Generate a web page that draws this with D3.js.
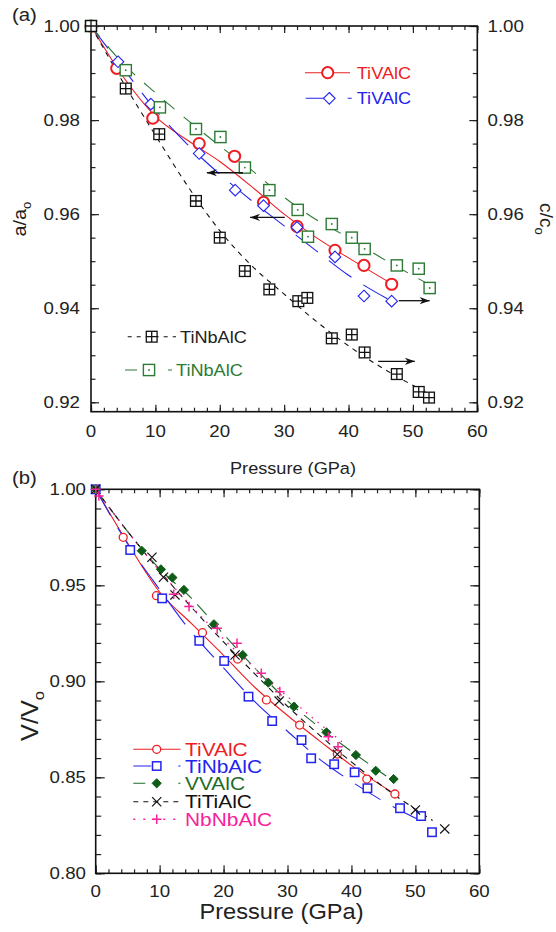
<!DOCTYPE html>
<html><head><meta charset="utf-8">
<script src="https://cdn.jsdelivr.net/npm/d3@7"></script>
<style>
body{margin:0;background:#fff;}
svg text{font-family:"Liberation Sans",Arial,Helvetica,sans-serif;}
</style></head><body>
<svg id="c" width="556" height="932"></svg>
<script>
// ---------- data ----------
const pressureTicks = [0,10,20,30,40,50,60];
const ratioTicksA = [0.92,0.94,0.96,0.98,1.00];
const ratioTicksB = [0.80,0.85,0.90,0.95,1.00];

// Panel (a): measured points
const aTiVAlC_P  = [0,4.0,9.6,16.8,22.3,26.8,32.0,37.9,42.4,46.7];
const aTiVAlC_a  = [1.000,0.9910,0.9804,0.9750,0.9723,0.9625,0.9574,0.9523,0.9491,0.9451];
const cTiVAlC_P  = [0,4.2,9.3,16.8,22.4,26.8,32.0,37.9,42.4,46.7];
const cTiVAlC_c  = [1.000,0.9924,0.9834,0.9729,0.9651,0.9618,0.9572,0.9509,0.9426,0.9415];
const aTiNbAlC_P = [0,5.4,10.6,16.3,20.0,23.9,27.7,32.2,33.6,37.4,40.5,42.5,47.5,50.9,52.5];
const aTiNbAlC_a = [1.000,0.9867,0.9770,0.9628,0.9550,0.9479,0.9440,0.9415,0.9422,0.9336,0.9344,0.9306,0.9260,0.9222,0.9210];
const cTiNbAlC_P = [0,5.4,10.7,16.3,20.1,23.9,27.7,32.1,33.7,37.4,40.5,42.5,47.5,50.9,52.6];
const cTiNbAlC_c = [1.000,0.9906,0.9827,0.9781,0.9764,0.9699,0.9651,0.9609,0.9552,0.9579,0.9550,0.9526,0.9491,0.9484,0.9443];
// Panel (a): fitted curves
const aTiVAlC_fitP  = [0,5,10,15,20,25,30,35,40,46.7];
const aTiVAlC_fitV  = [1.000,0.9892,0.9808,0.9757,0.9712,0.9658,0.9600,0.9550,0.9507,0.9452];
const cTiVAlC_fitP  = [0,5,10,15,20,25,30,35,40,46.7];
const cTiVAlC_fitV  = [1.000,0.9910,0.9822,0.9748,0.9685,0.9628,0.9575,0.9522,0.9470,0.9415];
const cTiNbAlC_fitP = [0,5,10,15,20,25,30,35,40,45,52.6];
const cTiNbAlC_fitV = [1.000,0.9920,0.9858,0.9800,0.9745,0.9693,0.9636,0.9588,0.9550,0.9508,0.9450];
const aTiNbAlC_fitP = [0,5,10,15,20,25,30,35,40,45,52.5];
const aTiNbAlC_fitV = [1.000,0.9880,0.9768,0.9660,0.9565,0.9490,0.9430,0.9372,0.9320,0.9275,0.9218];
// arrows
const arrowFromP = [23.6,30.1,47.8,44.6];
const arrowToP   = [18.0,24.7,52.6,50.3];
const arrowAt    = [0.9688,0.9593,0.9416,0.9287];

// Panel (b): measured points
const vTiVAlC_P   = [0,4.3,9.5,16.7,22.2,26.7,31.9,37.8,42.4,46.8];
const vTiVAlC_V   = [1.000,0.9750,0.9446,0.9253,0.9116,0.8903,0.8772,0.8621,0.8491,0.8413];
const vTiNbAlC_P  = [0,5.4,10.4,16.2,20.1,23.9,27.6,32.2,33.7,37.3,40.5,42.5,47.6,50.9,52.6];
const vTiNbAlC_V  = [1.000,0.9684,0.9432,0.9211,0.9106,0.8920,0.8793,0.8694,0.8599,0.8568,0.8526,0.8443,0.8339,0.8298,0.8214];
const vVVAlC_P    = [0,7.2,10.2,12.0,13.8,18.5,23.0,27.0,31.0,36.1,40.7,43.8,46.6];
const vVVAlC_V    = [1.000,0.9680,0.9583,0.9540,0.9476,0.9297,0.9137,0.8993,0.8868,0.8734,0.8616,0.8534,0.8491];
const vTiTiAlC_P  = [0,8.8,10.6,12.4,21.8,28.7,37.8,50.0,54.6];
const vTiTiAlC_V  = [1.000,0.9646,0.9542,0.9450,0.9137,0.8897,0.8620,0.8330,0.8231];
const vNbNbAlC_P  = [0,0.5,12.2,14.6,19.0,22.1,25.9,28.8,36.4,37.9];
const vNbNbAlC_V  = [1.000,0.9965,0.9453,0.9389,0.9276,0.9198,0.9042,0.8946,0.8711,0.8659];
// Panel (b): fitted curves
const vTiVAlC_fitP  = [0,5,10,15,20,25,30,35,40,46.8];
const vTiVAlC_fitV  = [1.000,0.9720,0.9465,0.9300,0.9135,0.8965,0.8822,0.8690,0.8562,0.8413];
const vTiNbAlC_fitP = [0,5,10,15,20,25,30,35,40,45,52];
const vTiNbAlC_fitV = [1.000,0.9715,0.9478,0.9255,0.9070,0.8890,0.8740,0.8595,0.8478,0.8375,0.8255];
const vVVAlC_fitP   = [0,5,10,15,20,25,30,35,40,46.6];
const vVVAlC_fitV   = [1.000,0.9780,0.9585,0.9432,0.9245,0.9065,0.8898,0.8760,0.8635,0.8480];
const vTiTiAlC_fitP = [0,5,10,15,20,25,30,35,40,45,52.7];
const vTiTiAlC_fitV = [1.000,0.9780,0.9575,0.9385,0.9205,0.9035,0.8870,0.8720,0.8580,0.8450,0.8275];
const vNbNbAlC_fitP = [0,5,10,15,20,25,30,35,38.5];
const vNbNbAlC_fitV = [1.000,0.9780,0.9575,0.9390,0.9220,0.9065,0.8920,0.8780,0.8685];

// ---------- setup ----------
const svg = d3.select('#c');
const SX = 1.1; // glyphs in the reference are slightly wide
function T(g, x, y, s, o = {}) {
  const t = g.append('text')
    .attr('transform', `translate(${x},${y}) rotate(${o.rot||0}) scale(${o.sx||SX},1)`)
    .attr('text-anchor', o.anchor || 'start')
    .style('font-size', (o.size||17) + 'px')
    .attr('fill', o.fill || '#222');
  t.text(s);
  if (o.sub) {
    t.append('tspan').attr('dy', o.subDy).style('font-size', o.subSize + 'px').text(o.sub);
  }
  return t;
}
const RED = '#ee1d23', BLUE = '#2323f0', GREENA = '#2b7b35', GREENB = '#1e6b28',
      GFILL = '#0d5c17', PINK = '#f7229a', BLACK = '#111';

function marker(g, type, cx, cy, color) {
  switch (type) {
    case 'circleBig':
      g.append('circle').attr('cx',cx).attr('cy',cy).attr('r',5.6)
        .attr('fill','#fff').attr('stroke',color).attr('stroke-width',2); break;
    case 'circle':
      g.append('circle').attr('cx',cx).attr('cy',cy).attr('r',4)
        .attr('fill','#fff').attr('stroke',color).attr('stroke-width',1.3); break;
    case 'diamond': {
      const s = 5.8;
      g.append('path').attr('d',`M${cx},${cy-s}L${cx+s},${cy}L${cx},${cy+s}L${cx-s},${cy}Z`)
        .attr('fill','#fff').attr('stroke',color).attr('stroke-width',1.1); break; }
    case 'diamondFilled': {
      const s = 4.6;
      g.append('path').attr('d',`M${cx},${cy-s}L${cx+s},${cy}L${cx},${cy+s}L${cx-s},${cy}Z`)
        .attr('fill',GFILL).attr('stroke',GFILL).attr('stroke-width',1); break; }
    case 'squareDot': {
      const s = 5.6;
      g.append('rect').attr('x',cx-s).attr('y',cy-s).attr('width',2*s).attr('height',2*s)
        .attr('fill','#fff').attr('stroke',color).attr('stroke-width',1.4);
      g.append('circle').attr('cx',cx).attr('cy',cy).attr('r',0.9).attr('fill',color); break; }
    case 'squarePlus': {
      const s = 5.4;
      g.append('rect').attr('x',cx-s).attr('y',cy-s).attr('width',2*s).attr('height',2*s)
        .attr('fill','#fff').attr('stroke',color).attr('stroke-width',1.3);
      g.append('path').attr('d',`M${cx-s},${cy}H${cx+s}M${cx},${cy-s}V${cy+s}`)
        .attr('stroke',color).attr('stroke-width',1.3); break; }
    case 'square': {
      const s = 4.2;
      g.append('rect').attr('x',cx-s).attr('y',cy-s).attr('width',2*s).attr('height',2*s)
        .attr('fill','#fff').attr('stroke',color).attr('stroke-width',1.5); break; }
    case 'cross': {
      const s = 4.6;
      g.append('path').attr('d',`M${cx-s},${cy-s}L${cx+s},${cy+s}M${cx-s},${cy+s}L${cx+s},${cy-s}`)
        .attr('stroke',color).attr('stroke-width',1.2); break; }
    case 'plus': {
      const s = 4.8;
      g.append('path').attr('d',`M${cx-s},${cy}H${cx+s}M${cx},${cy-s}V${cy+s}`)
        .attr('stroke',color).attr('stroke-width',1.5); break; }
  }
}

function panelFrame(g, x, y, o) {
  const [x0,x1] = x.range(), [y0,y1] = y.range();
  const tickStyle = s => s.call(a => a.select('.domain').remove())
                          .call(a => a.selectAll('line').attr('stroke','#222').attr('stroke-width',1.2))
                          .call(a => a.selectAll('text').remove());
  const xMinor = d3.range(0, 60.01, 2);
  g.append('g').attr('transform',`translate(0,${y0})`).call(d3.axisBottom(x).tickValues(pressureTicks).tickSize(-o.xMaj)).call(tickStyle);
  g.append('g').attr('transform',`translate(0,${y0})`).call(d3.axisBottom(x).tickValues(xMinor).tickSize(-o.xMin)).call(tickStyle);
  g.append('g').attr('transform',`translate(0,${y1})`).call(d3.axisTop(x).tickValues(pressureTicks).tickSize(-o.xMaj)).call(tickStyle);
  g.append('g').attr('transform',`translate(0,${y1})`).call(d3.axisTop(x).tickValues(xMinor).tickSize(-o.xMin)).call(tickStyle);
  g.append('g').attr('transform',`translate(${x0},0)`).call(d3.axisLeft(y).tickValues(o.yMajor).tickSize(-o.yMaj)).call(tickStyle);
  g.append('g').attr('transform',`translate(${x0},0)`).call(d3.axisLeft(y).tickValues(o.yMinor).tickSize(-o.yMin)).call(tickStyle);
  g.append('g').attr('transform',`translate(${x1},0)`).call(d3.axisRight(y).tickValues(o.yMajor).tickSize(-o.yMaj)).call(tickStyle);
  g.append('g').attr('transform',`translate(${x1},0)`).call(d3.axisRight(y).tickValues(o.yMinor).tickSize(-o.yMin)).call(tickStyle);
  g.append('rect').attr('x',x0).attr('y',y1).attr('width',x1-x0).attr('height',y0-y1)
    .attr('fill','none').attr('stroke','#111').attr('stroke-width',1.6);
}

function drawFit(g, x, y, P, V, st) {
  const pts = P.map((p,i) => [x(p), y(V[i])]);
  g.append('path').attr('d', d3.line().curve(d3.curveMonotoneX)(pts))
    .attr('fill','none').attr('stroke', st.color).attr('stroke-width', st.lw || 1)
    .attr('stroke-dasharray', st.dash || null).attr('stroke-linecap', st.cap || 'butt');
}
function drawMarks(g, x, y, P, V, st) {
  P.forEach((p,i) => marker(g, st.mk, x(p), y(V[i]), st.color));
}

// ---------- Panel (a) ----------
const gA = svg.append('g');
const xA = d3.scaleLinear([0,60],[91,477.3]);
const yA = d3.scaleLinear([0.918,1.0],[411.7,26]);
panelFrame(gA, xA, yA, {xMaj:7, xMin:4, yMaj:8, yMin:4.5,
  yMajor: ratioTicksA, yMinor: d3.range(0.92, 1.0001, 0.005)});

const seriesA = [
  {P:aTiVAlC_P, V:aTiVAlC_a, fP:aTiVAlC_fitP, fV:aTiVAlC_fitV, color:RED,   mk:'circleBig', lw:1.1},
  {P:cTiVAlC_P, V:cTiVAlC_c, fP:cTiVAlC_fitP, fV:cTiVAlC_fitV, color:BLUE,  mk:'diamond',   lw:1.1, dash:'28,14'},
  {P:cTiNbAlC_P,V:cTiNbAlC_c,fP:cTiNbAlC_fitP,fV:cTiNbAlC_fitV,color:GREENA,mk:'squareDot', lw:1.1, dash:'14,12'},
  {P:aTiNbAlC_P,V:aTiNbAlC_a,fP:aTiNbAlC_fitP,fV:aTiNbAlC_fitV,color:BLACK, mk:'squarePlus',lw:1.1, dash:'5,5'}
];
seriesA.forEach(s => drawFit(gA, xA, yA, s.fP, s.fV, s));
seriesA.forEach(s => drawMarks(gA, xA, yA, s.P, s.V, s));

// arrows
arrowFromP.forEach((p,i) => {
  const x1 = xA(p), x2 = xA(arrowToP[i]), yy = yA(arrowAt[i]);
  gA.append('line').attr('x1',x1).attr('x2',x2).attr('y1',yy).attr('y2',yy)
    .attr('stroke','#111').attr('stroke-width',1.3);
  const ang = x2 > x1 ? 0 : 180;
  gA.append('path').attr('d','M0,0L-10,-3.6L-7,0L-10,3.6Z')
    .attr('transform',`translate(${x2},${yy}) rotate(${ang})`).attr('fill','#111');
});

// axis labels (a)
ratioTicksA.forEach(v => {
  T(gA, 80, yA(v)+6, d3.format('.2f')(v), {anchor:'end', size:17});
  T(gA, 487.5, yA(v)+6, d3.format('.2f')(v), {anchor:'start', size:17});
});
pressureTicks.forEach(p => T(gA, xA(p), 437, String(p), {anchor:'middle', size:17}));
T(gA, 293, 474, 'Pressure (GPa)', {anchor:'middle', size:16.5});
T(gA, 25.5, 219, 'a/a', {anchor:'middle', rot:-90, size:18, sub:'o', subDy:5, subSize:12});
T(gA, 540, 219, 'c/c', {anchor:'middle', rot:90, size:17.5, sub:'o', subDy:5, subSize:12});
T(gA, 12, 21, '(a)', {size:18.5});

// legend (a)
const legA = [
  {y:72.7, x0:305, x1:350, mx:327.7, tx:356.7, label:'TiVAlC', s:0, dash:null, fill:RED},
  {y:98.3, x0:305.7, x1:352, mx:329.3, tx:356.7, label:'TiVAlC', s:1, dash:'18,24,4', fill:BLUE},
  {y:336.7, x0:127.7, x1:176, mx:151.7, tx:180, label:'TiNbAlC', s:3, dash:'4,5', fill:'#222'},
  {y:370, x0:125, x1:172, mx:149, tx:176, label:'TiNbAlC', s:2, dash:'12,31,4', fill:GREENA}
];
legA.forEach(l => {
  const s = seriesA[l.s];
  gA.append('line').attr('x1',l.x0).attr('x2',l.x1).attr('y1',l.y).attr('y2',l.y)
    .attr('stroke',s.color).attr('stroke-width',1.1).attr('stroke-dasharray',l.dash);
  marker(gA, s.mk, l.mx, l.y, s.color);
  T(gA, l.tx, l.y+6, l.label, {size:16.5, fill:l.fill});
});

// ---------- Panel (b) ----------
const gB = svg.append('g');
const xB = d3.scaleLinear([0,60],[95.7,479.3]);
const yB = d3.scaleLinear([0.80,1.00],[873.3,489.3]);
panelFrame(gB, xB, yB, {xMaj:8, xMin:4, yMaj:9, yMin:5.5,
  yMajor: ratioTicksB, yMinor: d3.range(0.80, 1.0001, 0.01)});

const seriesB = [
  {P:vTiVAlC_P,  V:vTiVAlC_V,  fP:vTiVAlC_fitP,  fV:vTiVAlC_fitV,  color:RED,    mk:'circle',        lw:1.1, label:'TiVAlC',  tfill:RED},
  {P:vTiNbAlC_P, V:vTiNbAlC_V, fP:vTiNbAlC_fitP, fV:vTiNbAlC_fitV, color:BLUE,   mk:'square',        lw:1.1, dash:'30,14', label:'TiNbAlC', tfill:BLUE, ldash:'18,27,3'},
  {P:vVVAlC_P,   V:vVVAlC_V,   fP:vVVAlC_fitP,   fV:vVVAlC_fitV,   color:GREENB, mk:'diamondFilled', lw:1.1, dash:'14,8',  label:'VVAlC',   tfill:GREENB, ldash:'12,33,3'},
  {P:vTiTiAlC_P, V:vTiTiAlC_V, fP:vTiTiAlC_fitP, fV:vTiTiAlC_fitV, color:BLACK,  mk:'cross',         lw:1.1, dash:'6,5',   label:'TiTiAlC', tfill:'#111', ldash:'5,5'},
  {P:vNbNbAlC_P, V:vNbNbAlC_V, fP:vNbNbAlC_fitP, fV:vNbNbAlC_fitV, color:PINK,   mk:'plus',          lw:1.4, dash:'1.5,6', label:'NbNbAlC', tfill:PINK, ldash:'2,8'}
];
seriesB.forEach(s => drawFit(gB, xB, yB, s.fP, s.fV, s));
seriesB.forEach(s => drawMarks(gB, xB, yB, s.P, s.V, s));

ratioTicksB.forEach(v => T(gB, 86, yB(v)+6, d3.format('.2f')(v), {anchor:'end', size:17}));
pressureTicks.forEach(p => T(gB, xB(p), 896.5, String(p), {anchor:'middle', size:17}));
T(gB, 281.5, 919, 'Pressure (GPa)', {anchor:'middle', size:21.5});
T(gB, 38, 716, 'V/V', {anchor:'middle', rot:-90, size:23, sub:'o', subDy:6, subSize:15});
T(gB, 12, 484, '(b)', {size:18.5});

const legRowsB = [749.3, 766, 783.3, 801.7, 819.3];
seriesB.forEach((s,i) => {
  const yy = legRowsB[i];
  gB.append('line').attr('x1',133.3).attr('x2',180.5).attr('y1',yy).attr('y2',yy)
    .attr('stroke',s.color).attr('stroke-width',s.lw).attr('stroke-dasharray',s.ldash||null);
  marker(gB, s.mk, 156.7, yy, s.color);
  T(gB, 185, yy+6.5, s.label, {size:19, fill:s.tfill});
});
</script>
</body></html>
